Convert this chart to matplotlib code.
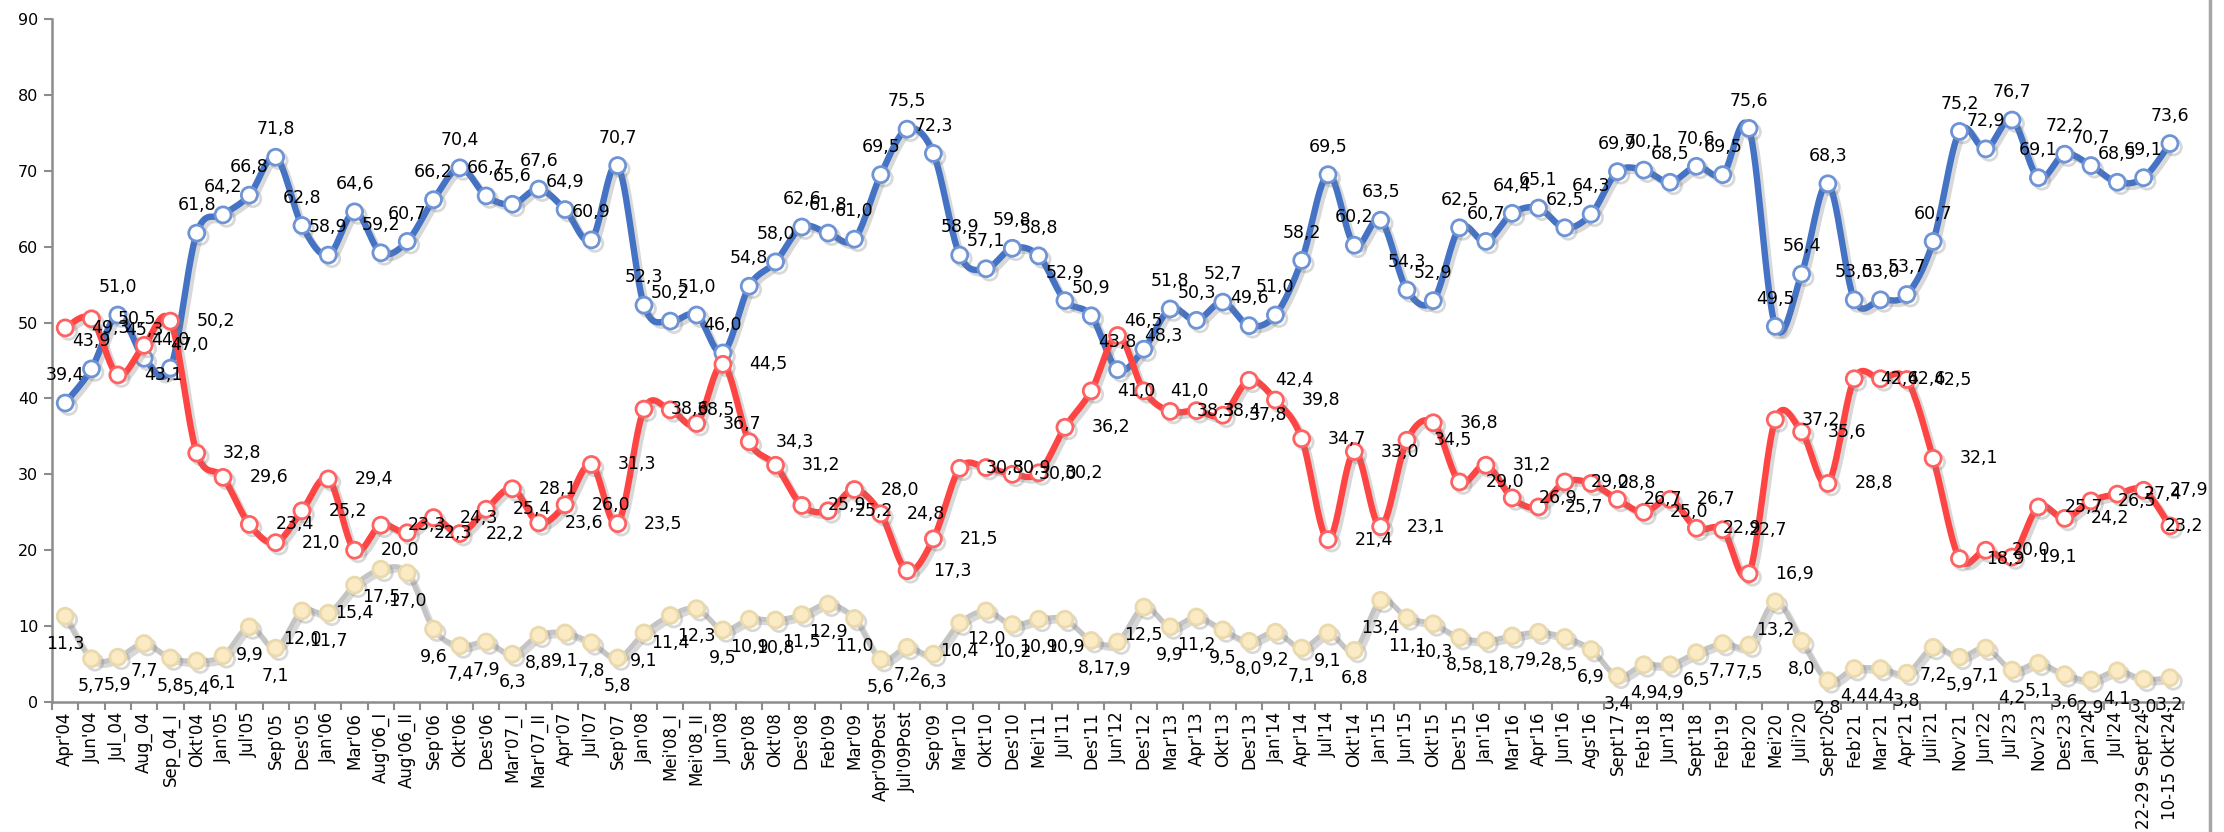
import numpy as np
import matplotlib
matplotlib.use("Agg")
import matplotlib.pyplot as plt
import matplotlib.patheffects as pe
from matplotlib.lines import Line2D

plt.rcParams['font.family'] = ['DejaVu Sans']

# survey waves
periods = ["Apr'04", "Jun'04", "Jul_04", "Aug_04", "Sep_04_I", "Okt'04", "Jan'05", "Jul'05",
           "Sep'05", "Des'05", "Jan'06", "Mar'06", "Aug'06_I", "Aug'06_II", "Sep'06", "Okt'06",
           "Des'06", "Mar'07_I", "Mar'07_II", "Apr'07", "Jul'07", "Sep'07", "Jan'08", "Mei'08_I",
           "Mei'08_II", "Jun'08", "Sep'08", "Okt'08", "Des'08", "Feb'09", "Mar'09", "Apr'09Post",
           "Jul'09Post", "Sep'09", "Mar'10", "Okt'10", "Des'10", "Mei'11", "Jul'11", "Des'11",
           "Jun'12", "Des'12", "Mar'13", "Apr'13", "Okt'13", "Des'13", "Jan'14", "Apr'14",
           "Jul'14", "Okt'14", "Jan'15", "Jun'15", "Okt'15", "Des'15", "Jan'16", "Mar'16",
           "Apr'16", "Jun'16", "Ags'16", "Sept'17", "Feb'18", "Jun'18", "Sept'18", "Feb'19",
           "Feb'20", "Mei'20", "Juli'20", "Sept'20", "Feb'21", "Mar'21", "Apr'21", "Juli'21",
           "Nov'21", "Jun'22", "Jul'23", "Nov'23", "Des'23", "Jan'24", "Jul'24",
           "22-29 Sept'24", "10-15 Okt'24"]

blue_vals = [39.4, 43.9, 51.0, 45.3, 44.0, 61.8, 64.2, 66.8, 71.8, 62.8, 58.9, 64.6, 59.2, 60.7,
             66.2, 70.4, 66.7, 65.6, 67.6, 64.9, 60.9, 70.7, 52.3, 50.2, 51.0, 46.0, 54.8, 58.0,
             62.6, 61.8, 61.0, 69.5, 75.5, 72.3, 58.9, 57.1, 59.8, 58.8, 52.9, 50.9, 43.8, 46.5,
             51.8, 50.3, 52.7, 49.6, 51.0, 58.2, 69.5, 60.2, 63.5, 54.3, 52.9, 62.5, 60.7, 64.4,
             65.1, 62.5, 64.3, 69.9, 70.1, 68.5, 70.6, 69.5, 75.6, 49.5, 56.4, 68.3, 53.0, 53.0,
             53.7, 60.7, 75.2, 72.9, 76.7, 69.1, 72.2, 70.7, 68.5, 69.1, 73.6]

red_vals = [49.3, 50.5, 43.1, 47.0, 50.2, 32.8, 29.6, 23.4, 21.0, 25.2, 29.4, 20.0, 23.3, 22.3,
            24.3, 22.2, 25.4, 28.1, 23.6, 26.0, 31.3, 23.5, 38.6, 38.5, 36.7, 44.5, 34.3, 31.2,
            25.9, 25.2, 28.0, 24.8, 17.3, 21.5, 30.8, 30.9, 30.0, 30.2, 36.2, 41.0, 48.3, 41.0,
            38.3, 38.4, 37.8, 42.4, 39.8, 34.7, 21.4, 33.0, 23.1, 34.5, 36.8, 29.0, 31.2, 26.9,
            25.7, 29.0, 28.8, 26.7, 25.0, 26.7, 22.9, 22.7, 16.9, 37.2, 35.6, 28.8, 42.6, 42.6,
            42.5, 32.1, 18.9, 20.0, 19.1, 25.7, 24.2, 26.5, 27.4, 27.9, 23.2]

gray_vals = [11.3, 5.7, 5.9, 7.7, 5.8, 5.4, 6.1, 9.9, 7.1, 12.0, 11.7, 15.4, 17.5, 17.0, 9.6,
             7.4, 7.9, 6.3, 8.8, 9.1, 7.8, 5.8, 9.1, 11.4, 12.3, 9.5, 10.9, 10.8, 11.5, 12.9,
             11.0, 5.6, 7.2, 6.3, 10.4, 12.0, 10.2, 10.9, 10.9, 8.1, 7.9, 12.5, 9.9, 11.2, 9.5,
             8.0, 9.2, 7.1, 9.1, 6.8, 13.4, 11.1, 10.3, 8.5, 8.1, 8.7, 9.2, 8.5, 6.9, 3.4, 4.9,
             4.9, 6.5, 7.7, 7.5, 13.2, 8.0, 2.8, 4.4, 4.4, 3.8, 7.2, 5.9, 7.1, 4.2, 5.1, 3.6,
             2.9, 4.1, 3.0, 3.2]


def smooth_curve(y, n=16):
    # excel style smoothed line (bezier through every point)
    pts = np.column_stack([np.arange(len(y)), np.asarray(y, float)])
    segs = []
    last = len(pts) - 1
    t = np.linspace(0, 1, n, endpoint=False)[:, None]
    for i in range(last):
        p0, p1 = pts[max(i - 1, 0)], pts[i]
        p2, p3 = pts[i + 1], pts[min(i + 2, last)]
        c1 = p1 + (p2 - p0) / 6.0
        c2 = p2 - (p3 - p1) / 6.0
        segs.append((1 - t) ** 3 * p1 + 3 * (1 - t) ** 2 * t * c1 + 3 * (1 - t) * t ** 2 * c2 + t ** 3 * p2)
    segs.append(pts[-1:])
    c = np.vstack(segs)
    return c[:, 0], c[:, 1]


def fmt(v):
    return ("%.1f" % v).replace('.', ',')


fig = plt.figure(figsize=(22.24, 8.32), dpi=100)
ax = fig.add_axes([0.0234, 0.1563, 0.9582, 0.8207])

x = np.arange(len(periods))
shadow = [pe.SimpleLineShadow(offset=(2.5, -2.5), shadow_color='#808080', alpha=0.3), pe.Normal()]

series = [
    (gray_vals, '#C4C4C4', 3.6, '#FBEBC4', '#EAD9AC'),
    (blue_vals, '#4472C4', 4.6, 'white', '#6F94D6'),
    (red_vals, '#FF4444', 4.6, 'white', '#FF6262'),
]
for i, (vals, col, lw, mface, medge) in enumerate(series):
    sx, sy = smooth_curve(vals)
    ax.plot(sx, sy, color=col, lw=lw, solid_capstyle='round', zorder=2 + i, path_effects=shadow)
    ax.plot(x, vals, ls='none', marker='o', ms=11.5, mfc=mface, mec=medge, mew=2,
            zorder=2 + i, path_effects=shadow)

lab_kw = dict(fontsize=12.5, color='black', zorder=10, textcoords='offset points')
for i in range(len(periods)):
    ax.annotate(fmt(blue_vals[i]), (x[i], blue_vals[i]), xytext=(0, 20),
                ha='center', va='center', **lab_kw)
    dx = 19 if i < len(periods) - 1 else -4
    ax.annotate(fmt(red_vals[i]), (x[i], red_vals[i]), xytext=(dx, 0),
                ha='left', va='center', **lab_kw)
    ax.annotate(fmt(gray_vals[i]), (x[i], gray_vals[i]), xytext=(0, -20),
                ha='center', va='center', **lab_kw)

ax.set_xlim(-0.5, len(periods) - 0.5)
ax.set_ylim(0, 90)
ax.set_yticks(np.arange(0, 91, 10))
ax.set_xticks(x)
ax.set_xticklabels(periods, rotation=90, fontsize=12)
ax.set_xticks(np.arange(-0.5, len(periods), 1), minor=True)
ax.tick_params(axis='x', which='major', length=0, pad=7)
ax.tick_params(axis='x', which='minor', length=6, width=1.5, color='#8C8C8C')
ax.tick_params(axis='y', length=6, width=1.5, color='#8C8C8C', labelsize=11.5, pad=4)

for s in ['top', 'right']:
    ax.spines[s].set_visible(False)
for s in ['left', 'bottom']:
    ax.spines[s].set_color('#8C8C8C')
    ax.spines[s].set_linewidth(1.8)

# chart border on the right
fig.add_artist(Line2D([0.9935, 0.9935], [0, 1], transform=fig.transFigure,
                      color='#A6A6A6', lw=2.5))

fig.savefig('out.png', dpi=100)
